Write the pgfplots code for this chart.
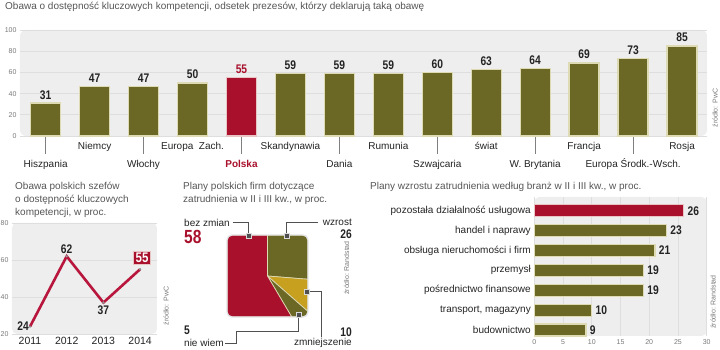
\documentclass[border=0pt]{standalone}
\usepackage{pgfplots}
\pgfplotsset{compat=1.18}
\usepackage{fontspec}
\setmainfont{Liberation Sans}
\newfontfamily\numfont[FakeStretch=0.82]{Liberation Sans}
\definecolor{olive}{RGB}{107,104,38}
\definecolor{pred}{RGB}{168,16,44}
\definecolor{lred}{RGB}{184,22,60}
\definecolor{gold}{RGB}{200,160,32}
\definecolor{edge}{RGB}{222,218,180}
\definecolor{redge}{RGB}{232,196,196}
\definecolor{bg}{RGB}{238,238,238}
\definecolor{gridc}{RGB}{222,222,222}
\definecolor{txt}{RGB}{35,35,35}
\definecolor{ttl}{RGB}{85,85,85}
\definecolor{tickc}{RGB}{120,120,120}
\definecolor{mk}{RGB}{80,80,80}
\tikzset{
  num/.style={font=\numfont\bfseries\fontsize{12.5}{13}\selectfont, text=txt},
}
\begin{document}
\begin{tikzpicture}
\useasboundingbox (0pt,0pt) rectangle (720pt,350pt);
% ---------- top chart ----------
\node[anchor=west, font=\fontsize{10}{12}\selectfont, text=ttl, inner sep=0] at (5pt,343pt) {Obawa o dostępność kluczowych kompetencji, odsetek prezesów, którzy deklarują taką obawę};
\begin{axis}[at={(20pt,214pt)}, anchor=south west, scale only axis, width=687pt, height=106pt,
  xmin=-0.525, xmax=13.51, ymin=0, ymax=100,
  axis background/.style={fill=bg, rounded corners=6pt},
  axis line style={draw=none}, tick pos=left, major tick length=0pt,
  tick style={draw=gray, line width=0.5pt},
  ytick={0,20,...,100}, ymajorgrids, grid style={gridc, line width=0.6pt},
  /pgf/number format/assume math mode=true,
  yticklabel style={font=\fontsize{7}{8}\selectfont, text=tickc},
  xtick={1,3,5,7,9,11,13},
  xticklabels={Niemcy, Europa\ \ Zach., Skandynawia, Rumunia, świat, Francja, Rosja},
  xticklabel style={font=\fontsize{10}{12}\selectfont, text=txt, text height=7pt, text depth=2pt, yshift=-3pt},
  extra x ticks={0,2,4,6,8,10,12},
  extra x tick labels={Hiszpania, Włochy, \textcolor{pred}{\bfseries Polska}, Dania, Szwajcaria, W. Brytania, Europa Środk.-Wsch.},
  extra x tick style={major tick length=18pt, tick align=outside, grid=none},
  ybar, bar width=30pt, bar shift=0pt,
  nodes near coords, every node near coord/.append style={num},
  clip=false]
\addplot[fill=olive, draw=edge, line width=1.3pt] coordinates {(0,31)(1,47)(2,47)(3,50)(5,59)(6,59)(7,59)(8,60)(9,63)(10,64)(11,69)(12,73)(13,85)};
\addplot[fill=pred, draw=redge, line width=1.3pt, every node near coord/.append style={text=pred}] coordinates {(4,55)};
\end{axis}
\node[rotate=90, font=\fontsize{7}{8}\selectfont, text=tickc] at (715pt,242pt) {źródło: PwC};
% ---------- line chart ----------
\node[anchor=west, font=\fontsize{10}{12}\selectfont, text=ttl, inner sep=0] at (15pt,163.3pt) {Obawa polskich szefów};
\node[anchor=west, font=\fontsize{10}{12}\selectfont, text=ttl, inner sep=0] at (15pt,150pt) {o dostępność kluczowych};
\node[anchor=west, font=\fontsize{10}{12}\selectfont, text=ttl, inner sep=0] at (15pt,136.7pt) {kompetencji, w proc.};
\begin{axis}[at={(12pt,16pt)}, anchor=south west, scale only axis, width=145pt, height=111pt,
  xmin=2010.51, xmax=2014.46, ymin=20, ymax=80,
  axis background/.style={fill=bg, rounded corners=5pt},
  axis line style={draw=none}, major tick length=0pt, tick pos=left,
  xtick={2011,...,2014}, ytick={20,40,60,80}, ymajorgrids, grid style={gridc, line width=0.6pt},
  /pgf/number format/assume math mode=true,
  xticklabel style={/pgf/number format/1000 sep={}, font=\fontsize{10.5}{12}\selectfont, text=txt},
  yticklabel style={font=\fontsize{7}{8}\selectfont, text=tickc},
  clip=false]
\addplot[lred, line width=2.6pt, mark=*, mark options={fill=white, draw=gray, line width=0.5pt, scale=0.45}] coordinates {(2011,24)(2012,62)(2013,37)(2014,55)};
\node[num, anchor=east, inner sep=1pt] at (axis cs:2011,24) {24};
\node[num, anchor=south, inner sep=2pt] at (axis cs:2012,62) {62};
\node[num, anchor=north, inner sep=3pt] at (axis cs:2013,37) {37};
\node[anchor=south, fill=pred, draw=redge, line width=0.8pt, text=white, inner sep=2pt, font=\numfont\bfseries\fontsize{14}{15}\selectfont, xshift=2pt, yshift=4pt] at (axis cs:2014,55) {55};
\end{axis}
\node[rotate=90, font=\fontsize{7}{8}\selectfont, text=tickc] at (166pt,44pt) {źródło: PwC};
% ---------- pie (square) ----------
\node[anchor=west, font=\fontsize{10}{12}\selectfont, text=ttl, inner sep=0] at (183pt,163.3pt) {Plany polskich firm dotyczące};
\node[anchor=west, font=\fontsize{10}{12}\selectfont, text=ttl, inner sep=0] at (183pt,150pt) {zatrudnienia w II i III kw., w proc.};
\begin{axis}[at={(227pt,33pt)}, anchor=south west, scale only axis, width=81pt, height=82pt,
  xmin=-1, xmax=1, ymin=-1, ymax=1, hide axis, clip=false]
% wzrost 26, zmniejszenie 10, nie wiem 5, bez zmian 58 (clockwise from top)
\addplot[fill=olive, draw=edge, line width=0.7pt] coordinates {(0,0)(0,1)(1,1)(1,-0.0796)} -- cycle;
\addplot[fill=gold, draw=edge, line width=0.7pt] coordinates {(0,0)(1,-0.0796)(1,-0.8663)} -- cycle;
\addplot[fill=olive, draw=edge, line width=0.7pt] coordinates {(0,0)(1,-0.8663)(1,-1)(0.5989,-1)} -- cycle;
\addplot[fill=pred, draw=edge, line width=0.7pt] coordinates {(0,0)(0.5989,-1)(-1,-1)(-1,1)(0,1)} -- cycle;
\end{axis}
\fill[white, even odd rule] (224pt,30pt) rectangle (311pt,118pt) [rounded corners=5pt] (227pt,33pt) rectangle (308pt,115pt);
\draw[rounded corners=5pt, gray!22, line width=1.4pt] (227pt,33pt) rectangle (308pt,115pt);
% leaders
\draw[mk, line width=0.6pt] (232.7pt,127.3pt) -- (248.3pt,127.3pt) -- (248.3pt,114pt);
\draw[mk, line width=0.6pt] (286.7pt,114pt) -- (286.7pt,127.3pt) -- (318.3pt,127.3pt);
\draw[mk, line width=0.6pt] (306.7pt,58.3pt) -- (321.7pt,58.3pt) -- (321.7pt,13.3pt);
\draw[mk, line width=0.6pt] (298.3pt,35pt) -- (298.3pt,18.3pt) -- (236.7pt,18.3pt) -- (236.7pt,6.7pt) -- (225pt,6.7pt);
\foreach \p in {(248.3pt,114pt),(286.7pt,114pt),(306.7pt,58.3pt),(298.3pt,35pt)}
  \node[fill=mk, draw=gray!30, line width=0.6pt, minimum size=5pt, inner sep=0] at \p {};
\node[anchor=west, inner sep=0, font=\fontsize{10}{12}\selectfont, text=txt] at (184pt,127.3pt) {bez zmian};
\node[anchor=west, inner sep=0, font=\numfont\bfseries\fontsize{19}{20}\selectfont, text=pred] at (184pt,113.3pt) {58};
\node[anchor=east, inner sep=0, font=\fontsize{10}{12}\selectfont, text=txt] at (352pt,127.3pt) {wzrost};
\node[anchor=east, inner sep=0, num] at (352pt,116pt) {26};
\node[anchor=west, inner sep=0, num] at (184pt,20pt) {5};
\node[anchor=west, inner sep=0, font=\fontsize{10}{12}\selectfont, text=txt] at (184pt,6.7pt) {nie wiem};
\node[anchor=east, inner sep=0, num] at (352pt,18.3pt) {10};
\node[anchor=east, inner sep=0, font=\fontsize{10}{12}\selectfont, text=txt] at (352pt,6.7pt) {zmniejszenie};
\node[rotate=90, font=\fontsize{7}{8}\selectfont, text=tickc] at (346.7pt,82pt) {źródło: Randstad};
% ---------- right bar chart ----------
\node[anchor=west, font=\fontsize{10}{12}\selectfont, text=ttl, inner sep=0] at (370pt,163.3pt) {Plany wzrostu zatrudnienia według branż w II i III kw., w proc.};
\begin{axis}[at={(534.3pt,14pt)}, anchor=south west, scale only axis, width=172.4pt, height=139pt,
  xmin=0, xmax=30, ymin=-0.3, ymax=6.69,
  axis background/.style={fill=bg, rounded corners=5pt},
  axis line style={draw=none}, major tick length=0pt, tick pos=left,
  xtick={0,5,...,30}, xmajorgrids, grid style={gridc, line width=0.6pt},
  ytick={0,...,6},
  yticklabels={budownictwo, {transport, magazyny}, pośrednictwo finansowe, przemysł, obsługa nieruchomości i firm, handel i naprawy, pozostała działalność usługowa},
  /pgf/number format/assume math mode=true,
  xticklabel style={font=\fontsize{7}{8}\selectfont, text=tickc},
  yticklabel style={font=\fontsize{10}{12}\selectfont, text=txt},
  xbar, bar width=12pt, bar shift=0pt,
  nodes near coords, every node near coord/.append style={num},
  clip=false]
\addplot[fill=olive, draw=edge, line width=1.2pt] coordinates {(9,0)(10,1)(19,2)(19,3)(21,4)(23,5)};
\addplot[fill=pred, draw=redge, line width=1.2pt] coordinates {(26,6)};
\end{axis}
\node[rotate=90, font=\fontsize{7}{8}\selectfont, text=tickc] at (713pt,48pt) {źródło: Randstad};
\end{tikzpicture}
\end{document}
